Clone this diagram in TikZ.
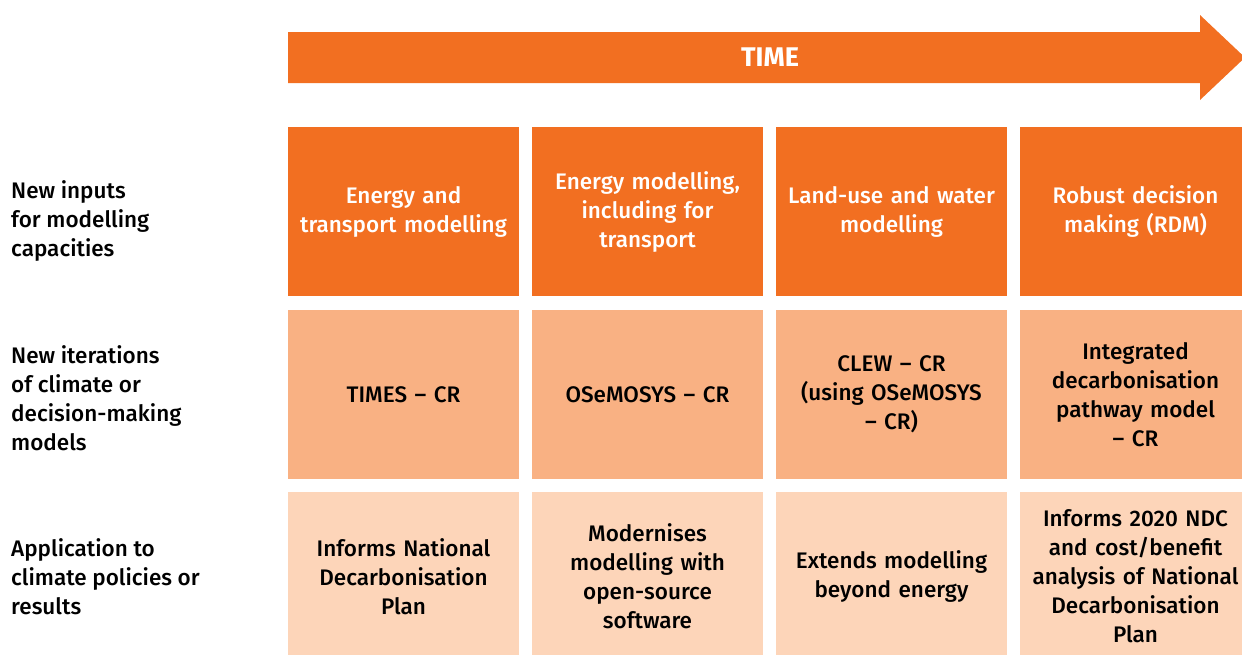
\documentclass[tikz,border=0pt]{standalone}
\usepackage{fontspec}
\setmainfont{Fira Sans}[UprightFont=* Medium, BoldFont=* Bold]
\definecolor{dark}{HTML}{F26F21}
\definecolor{mid}{HTML}{F9B183}
\definecolor{light}{HTML}{FDD5B9}
\tikzset{
  cell/.style={minimum width=231pt, minimum height=169pt, inner sep=0pt, outer sep=0pt,
    align=center, font=\fontsize{22.5}{29}\selectfont, text width=228pt},
  toprow/.style={cell, fill=dark, text=white},
  midrow/.style={cell, fill=mid, text=black},
  botrow/.style={cell, fill=light, text=black},
  lbl/.style={anchor=west, align=left, inner sep=0pt, font=\fontsize{22.5}{29}\selectfont, text=black}
}
\begin{document}
\begin{tikzpicture}[x=1pt, y=-1pt]
\useasboundingbox (0,0) rectangle (1242,654);
% time arrow
\fill[dark] (288,32) -- (1200,32) -- (1200,15) -- (1245,57.5) -- (1200,100) -- (1200,83) -- (288,83) -- cycle;
\node[text=white, font=\fontsize{27}{30}\bfseries\selectfont, inner sep=0pt] (time) at (770,57.5) {TIME};
% row 1
\node[toprow] (a1) at (403.5,211.5) {Energy and\\transport modelling};
\node[toprow] (a2) at (647.5,211.5) {Energy modelling,\\including for\\transport};
\node[toprow] (a3) at (891.5,211.5) {Land-use and water\\modelling};
\node[toprow] (a4) at (1135.5,211.5) {Robust decision\\making (RDM)};
% row 2
\node[midrow] (b1) at (403.5,394.5) {TIMES – CR};
\node[midrow] (b2) at (647.5,394.5) {OSeMOSYS – CR};
\node[midrow] (b3) at (891.5,394.5) {CLEW – CR\\(using OSeMOSYS\\– CR)};
\node[midrow] (b4) at (1135.5,394.5) {Integrated\\decarbonisation\\pathway model\\– CR};
% row 3
\node[botrow] (c1) at (403.5,576.5) {Informs National\\Decarbonisation\\Plan};
\node[botrow] (c2) at (647.5,576.5) {Modernises\\modelling with\\open-source\\software};
\node[botrow] (c3) at (891.5,576.5) {Extends modelling\\beyond energy};
\node[botrow] (c4) at (1135.5,576.5) {Informs 2020 NDC\\and cost/benefit\\analysis of National\\Decarbonisation\\Plan};
% row labels
\node[lbl] (l1) at (11,221) {New inputs\\for modelling\\capacities};
\node[lbl] (l2) at (11,398) {New iterations\\of climate or\\decision-making\\models};
\node[lbl] (l3) at (11,577) {Application to\\climate policies or\\results};
\end{tikzpicture}
\end{document}
